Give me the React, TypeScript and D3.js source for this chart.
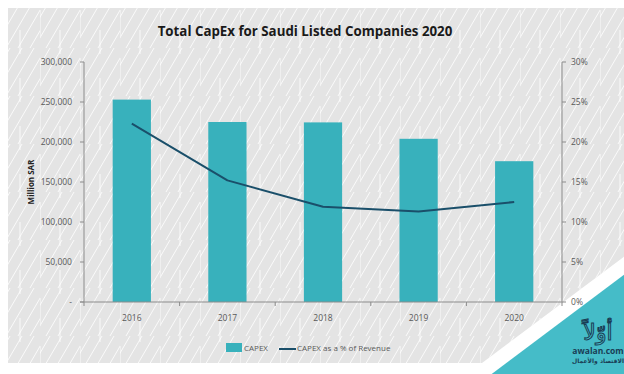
import React from "react";
import * as d3 from "d3";

const years = ["2016", "2017", "2018", "2019", "2020"];
const capex = [253000, 225000, 224500, 204000, 176000];
const capexPct = [22.3, 15.2, 11.9, 11.3, 12.5];
const leftTicks = [0, 50000, 100000, 150000, 200000, 250000, 300000];
const rightTicks = [0, 5, 10, 15, 20, 25, 30];

const W = 624;
const H = 374;
const M = { left: 84, right: 562, top: 62, bottom: 302 };
const TEAL = "#38b1bc";
const NAVY = "#1a4f6a";
const TXT = "#595959";
const FONT = "'Open Sans', 'DejaVu Sans', sans-serif";

export default function App() {
  const x = d3.scaleBand<string>().domain(years).range([M.left, M.right]).padding(0);
  const yL = d3.scaleLinear().domain([0, 300000]).range([M.bottom, M.top]);
  const yR = d3.scaleLinear().domain([0, 30]).range([M.bottom, M.top]);
  const bw = x.bandwidth() * 0.4;
  const line = d3
    .line<number>()
    .x((_, i) => (x(years[i]) as number) + x.bandwidth() / 2)
    .y((d) => yR(d))
    .curve(d3.curveLinear);
  const fmtL = (v: number) => (v === 0 ? "-" : d3.format(",")(v));

  const grayPath = `M8,8 L${W},8 L${W},${280 - (W - 593) * 0.75} L482,363 L8,363 Z`;
  const tealPath = `M${W},${280 - (W - 617) * 0.75} L${W},${H} L${617 - (H - 280) * 1.333},${H} Z`;

  return (
    <svg width={W} height={H} style={{ position: "absolute", left: 0, top: 0, background: "#fff" }}>
      <defs>
        <pattern id="hatch" patternUnits="userSpaceOnUse" width="40" height="48">
          <path d="M-6,48 L22,0 M6,48 L34,0 M18,48 L46,0 M30,48 L58,0 M-18,48 L10,0" stroke="#ffffff" strokeWidth="0.9" opacity="0.9" fill="none" />
          <path d="M0,10 L0,36 M20,30 L20,48 M20,0 L20,6" stroke="#ffffff" strokeWidth="0.9" opacity="0.9" fill="none" />
        </pattern>
      </defs>
      <path d={grayPath} fill="#e4e4e4" />
      <path d={grayPath} fill="url(#hatch)" />
      <path d={tealPath} fill="#45bcc8" />

      <text x={305} y={36} textAnchor="middle" fontFamily="'Open Sans', sans-serif" fontWeight={700} fontSize={13.3} fill="#1a1a1a">
        Total CapEx for Saudi Listed Companies 2020
      </text>

      {/* bars */}
      {capex.map((v, i) => (
        <rect
          key={years[i]}
          x={(x(years[i]) as number) + (x.bandwidth() - bw) / 2}
          y={yL(v)}
          width={bw}
          height={M.bottom - yL(v)}
          fill={TEAL}
        />
      ))}

      {/* left axis */}
      <line x1={M.left} x2={M.left} y1={M.top} y2={M.bottom} stroke="#8c8c8c" strokeWidth={1} />
      {leftTicks.map((t) => (
        <g key={t}>
          <line x1={M.left - 4} x2={M.left} y1={yL(t)} y2={yL(t)} stroke="#8c8c8c" />
          <text x={72} y={yL(t) + 3} textAnchor="end" fontFamily={FONT} fontSize={8.5} fill={TXT}>
            {fmtL(t)}
          </text>
        </g>
      ))}
      <text
        transform={`translate(34,${(M.top + M.bottom) / 2}) rotate(-90)`}
        textAnchor="middle"
        fontFamily={FONT}
        fontWeight={700}
        fontSize={8}
        fill="#222"
      >
        Million SAR
      </text>

      {/* right axis */}
      <line x1={M.right} x2={M.right} y1={M.top} y2={M.bottom} stroke="#8c8c8c" strokeWidth={1} />
      {rightTicks.map((t) => (
        <g key={t}>
          <line x1={M.right} x2={M.right + 4} y1={yR(t)} y2={yR(t)} stroke="#8c8c8c" />
          <text x={571} y={yR(t) + 3} textAnchor="start" fontFamily={FONT} fontSize={8.5} fill={TXT}>
            {t}%
          </text>
        </g>
      ))}

      {/* x axis */}
      <line x1={M.left - 4} x2={M.right} y1={M.bottom} y2={M.bottom} stroke="#8c8c8c" />
      {years.map((yy) => (
        <g key={yy}>
          <line x1={x(yy) as number} x2={x(yy) as number} y1={M.bottom} y2={M.bottom + 4} stroke="#8c8c8c" />
          <text x={(x(yy) as number) + x.bandwidth() / 2} y={321} textAnchor="middle" fontFamily={FONT} fontSize={8.5} fill={TXT}>
            {yy}
          </text>
        </g>
      ))}
      <line x1={M.right} x2={M.right} y1={M.bottom} y2={M.bottom + 4} stroke="#8c8c8c" />

      {/* line */}
      <path d={line(capexPct) || ""} fill="none" stroke={NAVY} strokeWidth={2} strokeLinejoin="round" />

      {/* legend */}
      <rect x={226} y={343} width={16} height={9} fill={TEAL} />
      <text x={244} y={351} fontFamily={FONT} fontSize={8} fill={TXT}>CAPEX</text>
      <line x1={279} x2={296} y1={349} y2={349} stroke={NAVY} strokeWidth={2} />
      <text x={297} y={351} fontFamily={FONT} fontSize={8} fill={TXT}>CAPEX as a % of Revenue</text>

      {/* logo */}
      <text x={598} y={340} textAnchor="middle" fontFamily="'DejaVu Sans', sans-serif" fontSize={22} fill="none" stroke="#1a3d55" strokeWidth={1}>
        أوّلاً
      </text>
      <text x={598} y={354} textAnchor="middle" fontFamily={FONT} fontWeight={700} fontSize={8.5} fill="#1a3d55">
        awalan.com
      </text>
      <text x={598} y={363} textAnchor="middle" fontFamily="'DejaVu Sans', sans-serif" fontWeight={700} fontSize={6} fill="#1a3d55">
        الاقتصاد والأعمال
      </text>
    </svg>
  );
}
